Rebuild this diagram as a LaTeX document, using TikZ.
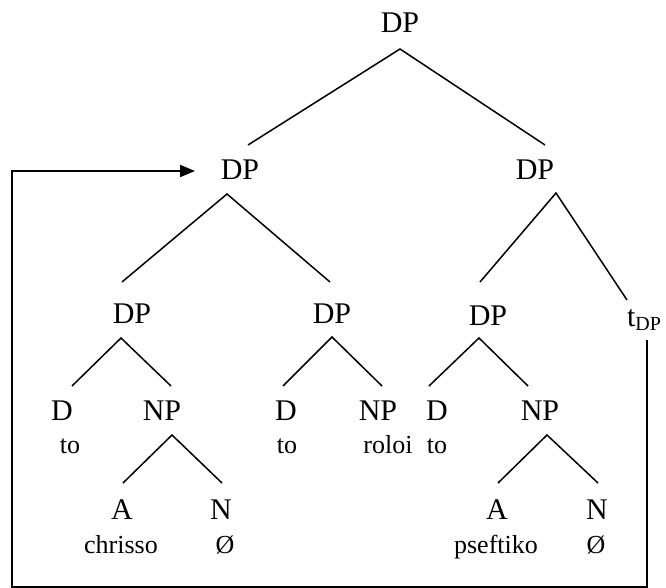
\documentclass[tikz,border=0pt]{standalone}
\usepackage{fontspec}
\setmainfont{Liberation Serif}
\usetikzlibrary{arrows.meta}
\begin{document}
\begin{tikzpicture}[x=1pt,y=-1pt,
  big/.style={inner sep=0pt,anchor=base,font=\fontsize{30}{30}\selectfont},
  small/.style={inner sep=0pt,anchor=base,font=\fontsize{26}{26}\selectfont},
  branch/.style={line width=1.5pt},
  move/.style={line width=2pt}]
\useasboundingbox (0,0) rectangle (666,588);
% labels
\node[big] (dp0) at (400,33) {DP};
\node[big] (dp1) at (240,180) {DP};
\node[big] (dp2) at (535,180) {DP};
\node[big] (dp3) at (132,323) {DP};
\node[big] (dp4) at (332,323) {DP};
\node[big] (dp5) at (488,325) {DP};
\node[big] (tdp) at (644,326) {t\raisebox{-4pt}{\fontsize{20}{20}\selectfont DP}};
\node[big] (d1) at (62,420) {D};
\node[big] (np1) at (162,420) {NP};
\node[big] (d2) at (286,420) {D};
\node[big] (np2) at (378,420) {NP};
\node[big] (d3) at (437,420) {D};
\node[big] (np3) at (540,420) {NP};
\node[small] (to1) at (70,453) {to};
\node[small] (to2) at (287,453) {to};
\node[small] (roloi) at (388,453) {roloi};
\node[small] (to3) at (437,453) {to};
\node[big] (a1) at (122,519) {A};
\node[big] (n1) at (221,519) {N};
\node[big] (a3) at (497,519) {A};
\node[big] (n3) at (597,519) {N};
\node[small] (chrisso) at (121,553) {chrisso};
\node[small] (e1) at (225,553) {Ø};
\node[small] (pseftiko) at (496,553) {pseftiko};
\node[small] (e3) at (596,553) {Ø};
% branch points
\coordinate (p0) at (400,49);
\coordinate (p0l) at (248,145);
\coordinate (p0r) at (545,145);
\coordinate (p1) at (227,194);
\coordinate (p1l) at (122,282);
\coordinate (p1r) at (330,282);
\coordinate (p2) at (556,193);
\coordinate (p2l) at (480,282);
\coordinate (p2r) at (627,300);
\coordinate (p3) at (121,338);
\coordinate (p3l) at (72,386);
\coordinate (p3r) at (171,386);
\coordinate (p4) at (332,337);
\coordinate (p4l) at (283,386);
\coordinate (p4r) at (382,386);
\coordinate (p5) at (479,338);
\coordinate (p5l) at (429,386);
\coordinate (p5r) at (528,386);
\coordinate (q1) at (172,435);
\coordinate (q1l) at (123,483);
\coordinate (q1r) at (222,483);
\coordinate (q3) at (547,435);
\coordinate (q3l) at (498,483);
\coordinate (q3r) at (598,483);
\draw[branch] (p0l) -- (p0) -- (p0r);
\draw[branch] (p1l) -- (p1) -- (p1r);
\draw[branch] (p2l) -- (p2) -- (p2r);
\draw[branch] (p3l) -- (p3) -- (p3r);
\draw[branch] (p4l) -- (p4) -- (p4r);
\draw[branch] (p5l) -- (p5) -- (p5r);
\draw[branch] (q1l) -- (q1) -- (q1r);
\draw[branch] (q3l) -- (q3) -- (q3r);
% movement arrow
\coordinate (m0) at (647,340);
\coordinate (m1) at (647,587);
\coordinate (m2) at (12,587);
\coordinate (m3) at (12,171);
\coordinate (m4) at (195,171);
\draw[move,-{Triangle[length=15pt,width=12pt]}] (m0) -- (m1) -- (m2) -- (m3) -- (m4);
\end{tikzpicture}
\end{document}
